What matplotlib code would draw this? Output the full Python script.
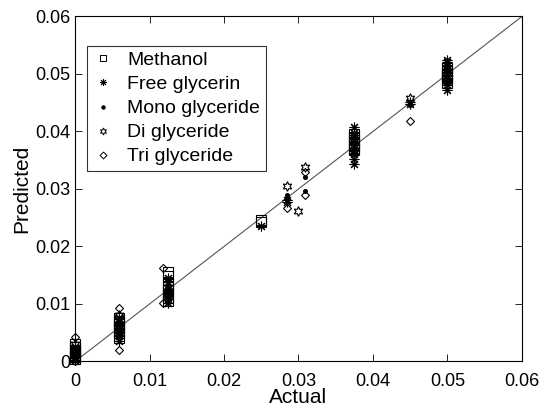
import matplotlib
matplotlib.use("Agg")
import matplotlib.pyplot as plt
from matplotlib.lines import Line2D

plt.rcParams['font.family'] = ['Liberation Sans', 'DejaVu Sans']

# ---- data (actual vs predicted) ----
methanol_x = [0, 0, 0, 0, 0, 0, 0, 0,
              0.0059, 0.0059, 0.0059, 0.0059, 0.0059, 0.0059, 0.0059,
              0.0125, 0.0125, 0.0125, 0.0125, 0.0125, 0.0125, 0.0125, 0.0125,
              0.025, 0.025,
              0.0375, 0.0375, 0.0375, 0.0375, 0.0375, 0.0375, 0.0375,
              0.05, 0.05, 0.05, 0.05, 0.05, 0.05, 0.05]
methanol_y = [0.0005, 0.001, 0.0015, 0.002, 0.0025, 0.003, 0.0008, 0.0018,
              0.004, 0.005, 0.006, 0.007, 0.0075, 0.0055, 0.0065,
              0.0156, 0.0148, 0.0135, 0.013, 0.0125, 0.0118, 0.011, 0.0105,
              0.0243, 0.0246,
              0.0375, 0.038, 0.0385, 0.039, 0.0395, 0.0372, 0.0368,
              0.0485, 0.049, 0.0495, 0.05, 0.0505, 0.051, 0.0498]

glycerin_x = [0, 0, 0, 0, 0,
              0.0059, 0.0059, 0.0059, 0.0059, 0.0059,
              0.0125, 0.0125, 0.0125, 0.0125, 0.0125, 0.0125,
              0.025, 0.0284, 0.0284,
              0.0375, 0.0375, 0.0375, 0.0375, 0.0375, 0.0375, 0.0375,
              0.045, 0.045,
              0.05, 0.05, 0.05, 0.05, 0.05, 0.05, 0.05, 0.05]
glycerin_y = [0.0002, 0.0008, 0.0014, 0.002, 0.0026,
              0.0035, 0.0045, 0.0055, 0.0065, 0.0075,
              0.0102, 0.0108, 0.0115, 0.0122, 0.0138, 0.0145,
              0.0235, 0.0278, 0.028,
              0.0344, 0.0352, 0.036, 0.0368, 0.039, 0.0398, 0.0408,
              0.0448, 0.0452,
              0.0473, 0.048, 0.0487, 0.0493, 0.0508, 0.0515, 0.052, 0.0525]

mono_x = [0, 0, 0, 0,
          0.0059, 0.0059, 0.0059, 0.0059,
          0.0125, 0.0125, 0.0125,
          0.0284, 0.0284, 0.0309, 0.0309,
          0.0375, 0.0375, 0.045, 0.045,
          0.05, 0.05, 0.05]
mono_y = [0.0005, 0.0012, 0.0018, 0.0025,
          0.004, 0.005, 0.006, 0.007,
          0.011, 0.012, 0.013,
          0.029, 0.0285, 0.0321, 0.0297,
          0.037, 0.0378, 0.0446, 0.0452,
          0.049, 0.0497, 0.0503]

di_x = [0, 0, 0,
        0.0059, 0.0059, 0.0059,
        0.0125, 0.0125, 0.0125,
        0.0284, 0.0299, 0.0309,
        0.0375, 0.0375, 0.0375,
        0.045,
        0.05, 0.05, 0.05, 0.05]
di_y = [0.001, 0.002, 0.003,
        0.005, 0.0065, 0.008,
        0.012, 0.013, 0.0115,
        0.0305, 0.0262, 0.0339,
        0.0385, 0.0375, 0.0365,
        0.0458,
        0.0488, 0.0495, 0.0505, 0.051]

tri_x = [0, 0, 0,
         0.0059, 0.0059, 0.0059, 0.0059,
         0.0118, 0.0118,
         0.0284, 0.0309, 0.0309,
         0.0375, 0.0375,
         0.045,
         0.05, 0.05]
tri_y = [0.0043, 0.0, 0.0015,
         0.0093, 0.002, 0.008, 0.0045,
         0.0163, 0.0102,
         0.0267, 0.033, 0.0289,
         0.038, 0.037,
         0.0419,
         0.049, 0.0502]

labels = ['Methanol', 'Free glycerin', 'Mono glyceride', 'Di glyceride', 'Tri glyceride']
ticks = [0, 0.01, 0.02, 0.03, 0.04, 0.05, 0.06]
tick_labels = ['0', '0.01', '0.02', '0.03', '0.04', '0.05', '0.06']

fig = plt.figure(figsize=(5.42, 4.08), dpi=100)
ax = fig.add_axes([0.1384, 0.114, 0.963 - 0.1384, 0.9596 - 0.114])

ax.plot([0, 0.06], [0, 0.06], color='#555555', lw=0.8, zorder=1)

hollow = dict(linestyle='none', mfc='none', mec='black', clip_on=False)
ax.plot(methanol_x, methanol_y, marker='s', ms=6.5, mew=0.8, **hollow)
ax.plot(glycerin_x, glycerin_y, marker=(8, 2, 0), ms=7, mew=0.8, **hollow)
ax.plot(mono_x, mono_y, marker='o', ms=2.6, linestyle='none', color='black', clip_on=False)
ax.plot(di_x, di_y, marker=(6, 1, 0), ms=7, mew=0.8, **hollow)
ax.plot(tri_x, tri_y, marker='D', ms=4.5, mew=0.8, **hollow)

ax.set_xlim(0, 0.06)
ax.set_ylim(0, 0.06)
ax.set_xticks(ticks)
ax.set_xticklabels(tick_labels)
ax.set_yticks(ticks)
ax.set_yticklabels(tick_labels)
ax.tick_params(direction='in', length=5, width=0.6, labelsize=13, top=True, right=True)
ax.tick_params(axis='x', pad=8)
ax.tick_params(axis='y', pad=3)
for s in ax.spines.values():
    s.set_linewidth(0.8)
ax.set_xlabel('Actual', fontsize=15, labelpad=-1)
ax.set_ylabel('Predicted', fontsize=15, labelpad=3)

handles = [
    Line2D([], [], marker='s', ms=4.5, mew=0.7, mfc='none', mec='black', linestyle='none'),
    Line2D([], [], marker=(8, 2, 0), ms=5, mew=0.7, mec='black', linestyle='none'),
    Line2D([], [], marker='o', ms=2.2, color='black', linestyle='none'),
    Line2D([], [], marker=(6, 1, 0), ms=5, mew=0.7, mfc='none', mec='black', linestyle='none'),
    Line2D([], [], marker='D', ms=3.5, mew=0.7, mfc='none', mec='black', linestyle='none'),
]
leg = ax.legend(handles, labels, loc='upper left', bbox_to_anchor=(0.027, 0.915),
                fontsize=14, frameon=True, fancybox=False, edgecolor='black',
                handlelength=1.0, handletextpad=0.75, labelspacing=0.33,
                borderpad=0.3, borderaxespad=0)
leg.get_frame().set_linewidth(0.8)

fig.savefig('out.png', dpi=100)
